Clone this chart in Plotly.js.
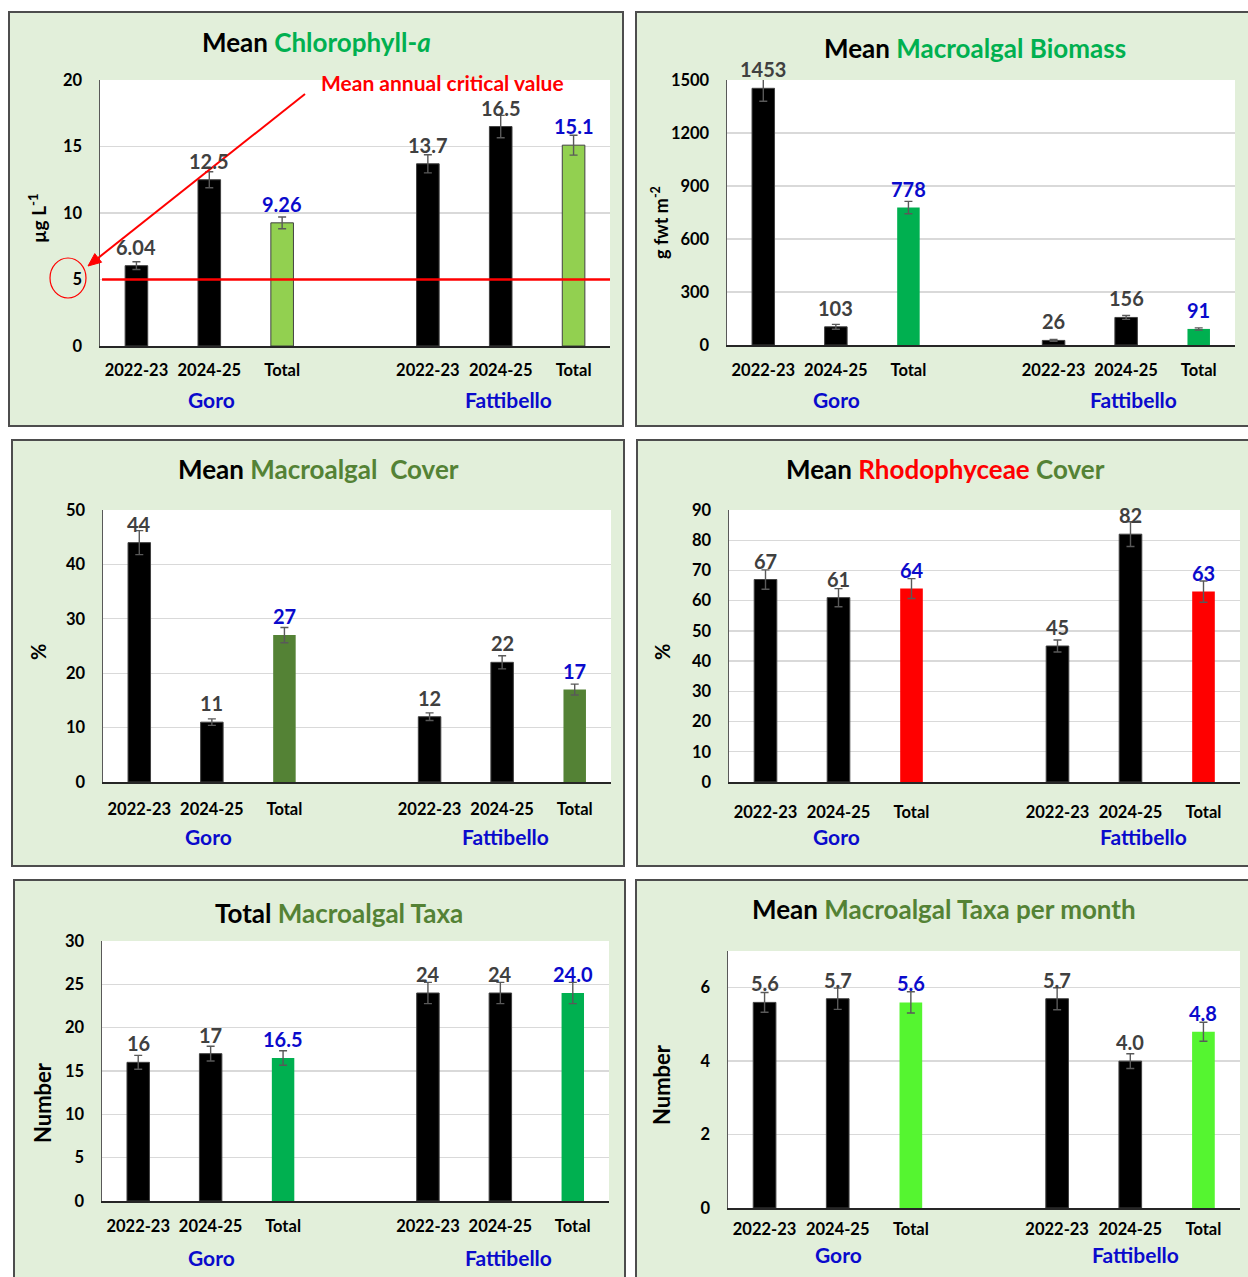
<!DOCTYPE html>
<html>
<head>
<meta charset="utf-8">
<script src="https://cdn.plot.ly/plotly-3.0.1.min.js"></script>
<style>
  html, body { margin: 0; padding: 0; background: #ffffff; width: 1248px; height: 1277px; overflow: hidden; position: relative; }
  .panel { position: absolute; box-sizing: border-box; border: 2px solid #4d4d4d; background: #e2efda; overflow: hidden; }
</style>
</head>
<body>
<div id="chla" class="panel"></div>
<div id="biomass" class="panel"></div>
<div id="cover" class="panel"></div>
<div id="rhodo" class="panel"></div>
<div id="taxa" class="panel"></div>
<div id="monthly" class="panel"></div>
<script>
// Sampling periods and lagoon sites
const periods = ['2022-23', '2024-25', 'Total'];
const sites = ['Goro', 'Fattibello'];

// Mean chlorophyll-a (µg L-1) and standard errors, Goro then Fattibello
const chlaValues = [6.04, 12.5, 9.26, 13.7, 16.5, 15.1];
const chlaErrors = [0.29, 0.60, 0.44, 0.68, 0.84, 0.75];
const chlaCritical = 5;
const chlaCriticalLabel = 'Mean annual critical value';

// Mean macroalgal biomass (g fwt m-2)
const biomassValues = [1453, 103, 778, 26, 156, 91];
const biomassErrors = [73, 14, 35, 5, 11, 6];

// Mean macroalgal cover (%)
const coverValues = [44, 11, 27, 12, 22, 17];
const coverErrors = [2.2, 0.6, 1.4, 0.7, 1.2, 1.0];

// Mean Rhodophyceae cover (%)
const rhodoValues = [67, 61, 64, 45, 82, 63];
const rhodoErrors = [3.2, 3.0, 3.3, 2.0, 4.1, 3.5];

// Total number of macroalgal taxa
const taxaValues = [16, 17, 16.5, 24, 24, 24];
const taxaErrors = [0.8, 0.85, 0.83, 1.23, 1.23, 1.23];

// Mean number of macroalgal taxa per month
const monthlyValues = [5.6, 5.7, 5.6, 5.7, 4.0, 4.8];
const monthlyErrors = [0.27, 0.29, 0.29, 0.30, 0.20, 0.26];

const FONT = 'Lato, "Open Sans", sans-serif';
const BLUE = '#0a0acc';
const LABEL_GRAY = '#404040';
const OLIVE = '#548235';

function drawPanel(p) {
  const B = 2;
  const el = document.getElementById(p.id);
  el.style.left = p.box.x + 'px';
  el.style.top = p.box.y + 'px';
  el.style.width = p.box.w + 'px';
  el.style.height = p.box.h + 'px';

  const W = p.box.w - 2 * B, H = p.box.h - 2 * B;
  const ox = p.box.x + B, oy = p.box.y + B;
  const pl = p.plot;
  const pw = pl.x1 - pl.x0, ph = pl.y1 - pl.y0;
  // page pixel -> paper fraction of this panel's plot area
  const px = X => (X - pl.x0) / pw;
  const py = Y => (pl.y1 - Y) / ph;

  const xs = [], ticks = [], colors = [], lineW = [], labels = [], labelColors = [];
  sites.forEach((s, si) => periods.forEach((per, pi) => {
    const i = si * periods.length + pi;
    const isTotal = per === 'Total';
    xs.push(si * (periods.length + 1) + pi);
    ticks.push(per);
    colors.push(isTotal ? p.totalColor : '#000000');
    lineW.push(isTotal ? (p.totalOutline ? 1 : 0) : 1);
    labels.push(p.format(p.values[i], isTotal));
    labelColors.push(isTotal ? BLUE : LABEL_GRAY);
  }));

  const bars = {
    type: 'bar', x: xs, y: p.values, width: 0.31,
    marker: { color: colors, line: { color: '#404040', width: lineW } },
    error_y: { type: 'data', array: p.errors, visible: true, color: '#595959', thickness: 1.4, width: 4 },
    hoverinfo: 'skip'
  };

  const annotations = xs.map((x, i) => ({
    x: x, y: p.values[i], xref: 'x', yref: 'y', text: labels[i], showarrow: false,
    yanchor: 'bottom', yshift: 6, borderpad: 0,
    font: { family: FONT, size: 20, weight: 700, color: labelColors[i] }
  }));

  annotations.push({
    x: px(p.titlePos[0]), y: py(p.titlePos[1]), xref: 'paper', yref: 'paper',
    text: p.title, showarrow: false, xanchor: 'center', yanchor: 'middle',
    font: { family: FONT, size: 26, weight: 700, color: '#000000' }
  });
  annotations.push({
    x: px(p.yTitlePos[0]), y: py(p.yTitlePos[1]), xref: 'paper', yref: 'paper',
    text: p.yTitle, showarrow: false, textangle: -90, xanchor: 'center', yanchor: 'middle',
    font: { family: FONT, size: p.yTitleSize, weight: 700, color: '#000000' }
  });
  sites.forEach((s, si) => annotations.push({
    x: px(p.siteX[si]), y: py(p.siteY), xref: 'paper', yref: 'paper',
    text: s, showarrow: false, xanchor: 'center', yanchor: 'middle',
    font: { family: FONT, size: 21, weight: 700, color: BLUE }
  }));

  const shapes = [];
  if (p.extra) p.extra(annotations, shapes, px, py);

  const tickFont = { family: FONT, size: 16.5, weight: 700, color: '#000000' };
  const layout = {
    width: W, height: H,
    margin: { l: pl.x0 - ox, r: (ox + W) - pl.x1, t: pl.y0 - oy, b: (oy + H) - pl.y1, pad: 0 },
    paper_bgcolor: 'rgba(0,0,0,0)', plot_bgcolor: '#ffffff', showlegend: false,
    xaxis: {
      range: [-0.5, 6.5], tickmode: 'array', tickvals: xs, ticktext: ticks,
      showgrid: false, zeroline: false, showline: true, linecolor: '#262626', linewidth: 2,
      ticks: '', tickfont: tickFont, ticklabelstandoff: p.xStandoff, fixedrange: true
    },
    yaxis: {
      range: p.yRange, tick0: 0, dtick: p.dtick,
      showgrid: true, gridcolor: '#d9d9d9', gridwidth: 1.3, zeroline: false,
      showline: true, linecolor: '#595959', linewidth: 1.5,
      ticks: '', tickfont: tickFont, ticklabelstandoff: 13, fixedrange: true
    },
    annotations: annotations, shapes: shapes
  };
  Plotly.newPlot(el, [bars], layout, { staticPlot: true, displayModeBar: false });
}

const fmtInt = v => String(v);

// Red pointer from the critical-value note down to the circled tick label
function pointer(shp, px, py, tail, tip, color) {
  const dx = tip[0] - tail[0], dy = tip[1] - tail[1];
  const len = Math.hypot(dx, dy), ux = dx / len, uy = dy / len;
  const headLen = 13, headHalf = 5.5;
  const bx = tip[0] - headLen * ux, by = tip[1] - headLen * uy;
  const nx = -uy, ny = ux;
  shp.push({ type: 'line', xref: 'paper', yref: 'paper',
             x0: px(tail[0]), y0: py(tail[1]), x1: px(bx), y1: py(by), line: { color: color, width: 2 } });
  const pts = [[tip[0], tip[1]], [bx + headHalf * nx, by + headHalf * ny], [bx - headHalf * nx, by - headHalf * ny]];
  const path = 'M ' + pts.map(q => px(q[0]) + ',' + py(q[1])).join(' L ') + ' Z';
  shp.push({ type: 'path', xref: 'paper', yref: 'paper', path: path, fillcolor: color, line: { color: color, width: 1 } });
}

const panels = [
  {
    id: 'chla', box: { x: 8, y: 11, w: 616, h: 416 }, plot: { x0: 100, x1: 610, y0: 80, y1: 346 },
    values: chlaValues, errors: chlaErrors, yRange: [0, 20], dtick: 5,
    totalColor: '#92d050', totalOutline: true,
    format: v => v.toPrecision(3),
    title: 'Mean <span style="color:#00b050">Chlorophyll-<i>a</i></span>', titlePos: [316, 42],
    yTitle: 'µg L<sup>-1</sup>', yTitleSize: 19, yTitlePos: [37, 218],
    xStandoff: 8, siteX: [211, 508], siteY: 399,
    extra: (ann, shp, px, py) => {
      shp.push({ type: 'line', xref: 'paper', yref: 'y', x0: 0.004, x1: 1, y0: chlaCritical, y1: chlaCritical,
                 line: { color: '#ff0000', width: 2.5 } });
      shp.push({ type: 'circle', xref: 'paper', yref: 'paper', x0: px(50), x1: px(86), y0: py(298), y1: py(258),
                 line: { color: '#ff0000', width: 1.2 } });
      ann.push({ x: px(442), y: py(83), xref: 'paper', yref: 'paper', text: chlaCriticalLabel, showarrow: false,
                 xanchor: 'center', yanchor: 'middle', borderpad: 0,
                 font: { family: FONT, size: 21, weight: 700, color: '#ff0000' } });
      pointer(shp, px, py, [305, 94], [88, 266], '#ff0000');
    }
  },
  {
    id: 'biomass', box: { x: 635, y: 11, w: 620, h: 416 }, plot: { x0: 727, x1: 1235, y0: 80, y1: 345 },
    values: biomassValues, errors: biomassErrors, yRange: [0, 1500], dtick: 300,
    totalColor: '#00b050', totalOutline: false, format: fmtInt,
    title: 'Mean <span style="color:#00b050">Macroalgal Biomass</span>', titlePos: [975, 48],
    yTitle: 'g fwt m<sup>-2</sup>', yTitleSize: 18, yTitlePos: [660, 223],
    xStandoff: 9, siteX: [836, 1133], siteY: 399
  },
  {
    id: 'cover', box: { x: 11, y: 439, w: 614, h: 428 }, plot: { x0: 103, x1: 611, y0: 510, y1: 782 },
    values: coverValues, errors: coverErrors, yRange: [0, 50], dtick: 10,
    totalColor: OLIVE, totalOutline: false, format: fmtInt,
    title: 'Mean <span style="color:' + OLIVE + '">Macroalgal&nbsp; Cover</span>', titlePos: [318, 469],
    yTitle: '%', yTitleSize: 20, yTitlePos: [38, 652],
    xStandoff: 11, siteX: [208, 505], siteY: 836
  },
  {
    id: 'rhodo', box: { x: 636, y: 439, w: 620, h: 428 }, plot: { x0: 729, x1: 1240, y0: 510, y1: 782 },
    values: rhodoValues, errors: rhodoErrors, yRange: [0, 90], dtick: 10,
    totalColor: '#ff0000', totalOutline: false, format: fmtInt,
    title: 'Mean <span style="color:#ff0000">Rhodophyceae </span><span style="color:' + OLIVE + '">Cover</span>', titlePos: [945, 469],
    yTitle: '%', yTitleSize: 20, yTitlePos: [662, 652],
    xStandoff: 14, siteX: [836, 1143], siteY: 836
  },
  {
    id: 'taxa', box: { x: 13, y: 879, w: 613, h: 410 }, plot: { x0: 102, x1: 609, y0: 941, y1: 1201 },
    values: taxaValues, errors: taxaErrors, yRange: [0, 30], dtick: 5,
    totalColor: '#00b050', totalOutline: false,
    format: (v, isTotal) => isTotal ? v.toFixed(1) : String(v),
    title: 'Total <span style="color:' + OLIVE + '">Macroalgal Taxa</span>', titlePos: [339, 913],
    yTitle: 'Number', yTitleSize: 22, yTitlePos: [42, 1103],
    xStandoff: 9, siteX: [211, 508], siteY: 1257
  },
  {
    id: 'monthly', box: { x: 635, y: 879, w: 620, h: 410 }, plot: { x0: 728, x1: 1240, y0: 951, y1: 1208 },
    values: monthlyValues, errors: monthlyErrors, yRange: [0, 7], dtick: 2,
    totalColor: '#55f530', totalOutline: false,
    format: v => v.toFixed(1),
    title: 'Mean <span style="color:' + OLIVE + '">Macroalgal Taxa per month</span>', titlePos: [944, 909],
    yTitle: 'Number', yTitleSize: 22, yTitlePos: [662, 1085],
    xStandoff: 5, siteX: [838, 1135], siteY: 1254
  }
];

panels.forEach(drawPanel);
</script>
</body>
</html>
